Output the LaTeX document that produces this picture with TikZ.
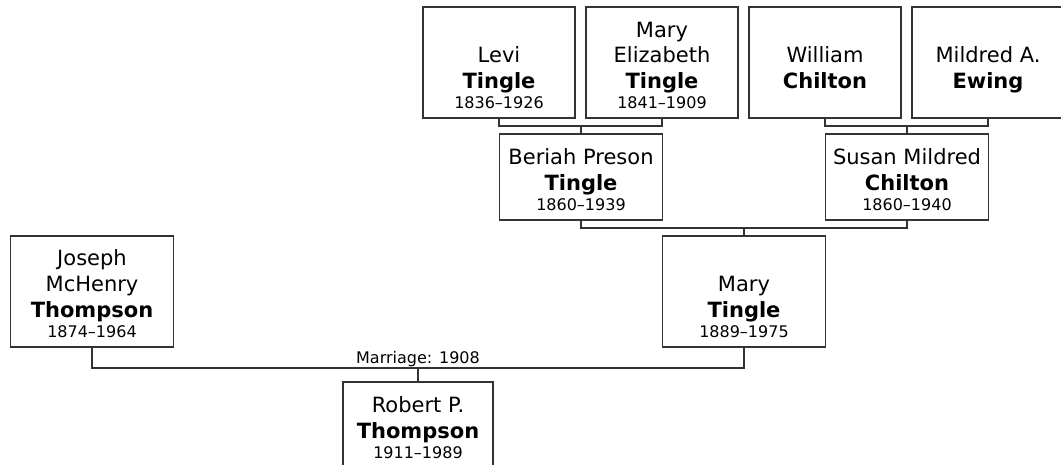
\documentclass[tikz,border=0pt]{standalone}
\usepackage{fontspec}
\setmainfont{DejaVu Sans}
\definecolor{edgegray}{HTML}{333333}
\tikzset{
  person/.style={draw=edgegray, line width=1.9pt, rectangle, inner sep=0pt, fill=white},
  given/.style={anchor=base, inner sep=0pt, font=\fontsize{21}{22}\selectfont},
  surname/.style={anchor=base, inner sep=0pt, font=\fontsize{21}{22}\selectfont\bfseries},
  years/.style={anchor=base, inner sep=0pt, font=\fontsize{16}{17}\selectfont},
  link/.style={draw=edgegray, line width=1.9pt},
}
\begin{document}
\begin{tikzpicture}[x=1pt, y=-1pt]
\clip (0,0) rectangle (1061,465);
\fill[white] (0,0) rectangle (1061,465);

% junction points of the connectors
\coordinate (j1) at (581,126);
\coordinate (j2) at (907,126);
\coordinate (j3) at (744,228);
\coordinate (j4) at (418,368);

% great-grandparents
\node[person, minimum width=152pt, minimum height=111pt] (levi) at (499,62.5) {};
\node[given] (levi-g) at ([yshift=56pt]levi.south) {Levi};
\node[surname] (levi-s) at ([yshift=30.5pt]levi.south) {Tingle};
\node[years] (levi-y) at ([yshift=10.5pt]levi.south) {1836–1926};

\node[person, minimum width=152pt, minimum height=111pt] (marye) at (662,62.5) {};
\node[given] (marye-g1) at ([yshift=81.5pt]marye.south) {Mary};
\node[given] (marye-g2) at ([yshift=56pt]marye.south) {Elizabeth};
\node[surname] (marye-s) at ([yshift=30.5pt]marye.south) {Tingle};
\node[years] (marye-y) at ([yshift=10.5pt]marye.south) {1841–1909};

\node[person, minimum width=152pt, minimum height=111pt] (william) at (825,62.5) {};
\node[given] (william-g) at ([yshift=56pt]william.south) {William};
\node[surname] (william-s) at ([yshift=30.5pt]william.south) {Chilton};

\node[person, minimum width=152pt, minimum height=111pt] (mildred) at (988,62.5) {};
\node[given] (mildred-g) at ([yshift=56pt]mildred.south) {Mildred A.};
\node[surname] (mildred-s) at ([yshift=30.5pt]mildred.south) {Ewing};

% grandparents
\node[person, minimum width=163pt, minimum height=86pt] (beriah) at (581,177) {};
\node[given] (beriah-g) at ([yshift=56pt]beriah.south) {Beriah Preson};
\node[surname] (beriah-s) at ([yshift=30.5pt]beriah.south) {Tingle};
\node[years] (beriah-y) at ([yshift=10.5pt]beriah.south) {1860–1939};

\node[person, minimum width=163pt, minimum height=86pt] (susan) at (907,177) {};
\node[given] (susan-g) at ([yshift=56pt]susan.south) {Susan Mildred};
\node[surname] (susan-s) at ([yshift=30.5pt]susan.south) {Chilton};
\node[years] (susan-y) at ([yshift=10.5pt]susan.south) {1860–1940};

% parents
\node[person, minimum width=163pt, minimum height=111pt] (joseph) at (92,291.5) {};
\node[given] (joseph-g1) at ([yshift=82pt]joseph.south) {Joseph};
\node[given] (joseph-g2) at ([yshift=56.5pt]joseph.south) {McHenry};
\node[surname] (joseph-s) at ([yshift=30.5pt]joseph.south) {Thompson};
\node[years] (joseph-y) at ([yshift=10.5pt]joseph.south) {1874–1964};

\node[person, minimum width=163pt, minimum height=111pt] (maryt) at (744,291.5) {};
\node[given] (maryt-g) at ([yshift=56pt]maryt.south) {Mary};
\node[surname] (maryt-s) at ([yshift=30.5pt]maryt.south) {Tingle};
\node[years] (maryt-y) at ([yshift=10.5pt]maryt.south) {1889–1975};

% child
\node[person, minimum width=150pt, minimum height=86pt] (robert) at (418,425) {};
\node[given] (robert-g) at ([yshift=56pt]robert.south) {Robert P.};
\node[surname] (robert-s) at ([yshift=30.5pt]robert.south) {Thompson};
\node[years] (robert-y) at ([yshift=10.5pt]robert.south) {1911–1989};

% connectors
\draw[link] (levi.south) |- (j1) -| (marye.south);
\draw[link] (j1) -- (beriah.north);
\draw[link] (william.south) |- (j2) -| (mildred.south);
\draw[link] (j2) -- (susan.north);
\draw[link] (beriah.south) |- (j3) -| (susan.south);
\draw[link] (j3) -- (maryt.north);
\draw[link] (joseph.south) |- (j4) -| (maryt.south);
\draw[link] (j4) -- (robert.north);

\node[years] (marriage) at (418,363) {Marriage: 1908};
\end{tikzpicture}
\end{document}
